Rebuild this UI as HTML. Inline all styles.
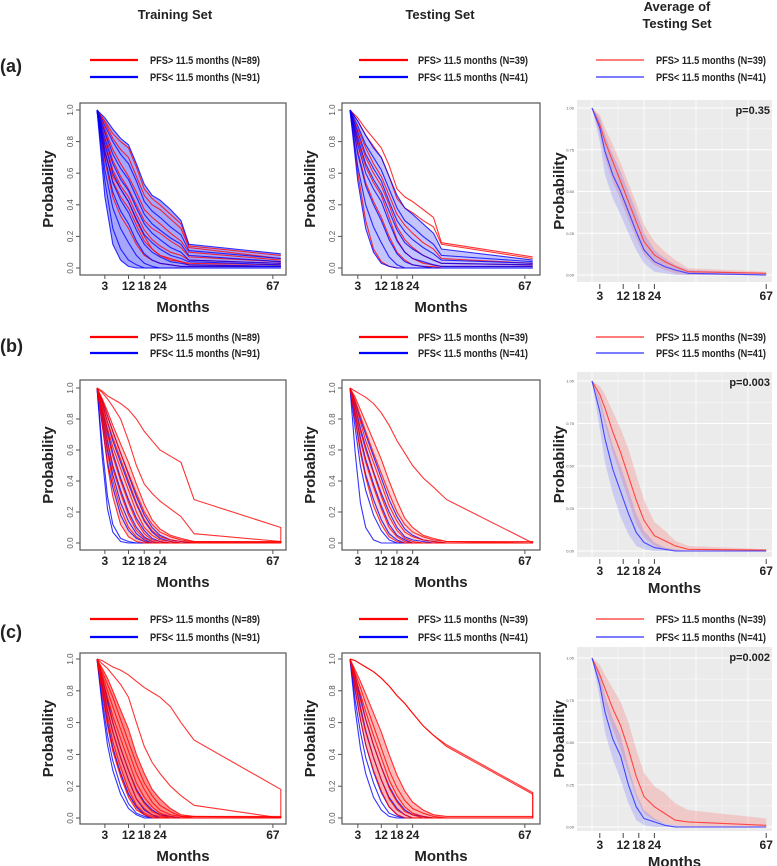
<!DOCTYPE html>
<html><head><meta charset="utf-8"><title>PFS survival curves</title>
<style>
html,body{margin:0;padding:0;background:#fff;}
svg{display:block;font-family:"Liberation Sans",sans-serif;}
.t{font-weight:bold;fill:#222;}
</style></head>
<body>
<svg id="fig" width="777" height="866" viewBox="0 0 777 866" xmlns="http://www.w3.org/2000/svg">
  <text class="t" x="175" y="19" font-size="13" text-anchor="middle">Training Set</text>
  <text class="t" x="440" y="19" font-size="13" text-anchor="middle">Testing Set</text>
  <text class="t" x="677" y="11" font-size="13" text-anchor="middle">Average of</text>
  <text class="t" x="677" y="28" font-size="13" text-anchor="middle">Testing Set</text>
  <text class="t" x="0" y="72" font-size="18">(a)</text>
  <text class="t" x="0" y="352" font-size="18">(b)</text>
  <text class="t" x="0" y="638" font-size="18">(c)</text>
  <g id="legends"></g>
  <g id="plots"></g>
</svg>
<script>
// ---------------- data ----------------
const monthsA = [0,3,6,9,12,15,18,21,24,28,32,35,70];
const trainRedA = [
 [1,.93,.85,.80,.76,.64,.50,.44,.40,.34,.28,.14,.08],
 [1,.92,.82,.75,.70,.58,.46,.40,.37,.31,.25,.13,.06],
 [1,.88,.75,.66,.58,.48,.37,.32,.28,.22,.17,.10,.05],
 [1,.85,.68,.58,.50,.40,.30,.25,.22,.17,.13,.07,.04],
 [1,.80,.62,.52,.45,.34,.24,.18,.14,.10,.08,.05,.03],
 [1,.75,.55,.45,.38,.27,.17,.12,.08,.05,.04,.03,.02],
 [1,.72,.58,.50,.42,.30,.20,.12,.08,.06,.04,.02,.01],
 [1,.68,.45,.33,.25,.15,.08,.05,.03,.02,.01,.01,.01]];
const trainBlueA = [
 [1,.95,.88,.82,.78,.66,.53,.46,.43,.37,.30,.15,.09],
 [1,.90,.80,.72,.66,.55,.42,.36,.32,.26,.21,.11,.06],
 [1,.86,.72,.63,.56,.45,.34,.28,.24,.19,.15,.08,.04],
 [1,.82,.66,.56,.49,.38,.28,.22,.18,.13,.10,.05,.03],
 [1,.78,.60,.50,.42,.31,.21,.16,.12,.08,.06,.04,.02],
 [1,.74,.54,.43,.35,.24,.15,.10,.07,.04,.03,.02,.01],
 [1,.70,.48,.36,.28,.17,.09,.05,.03,.02,.01,.01,.01],
 [1,.62,.38,.25,.16,.08,.03,.01,0,0,0,0,0],
 [1,.55,.25,.12,.05,.02,0,0,0,0,0,0,0],
 [1,.45,.15,.05,.01,0,0,0,0,0,0,0,0]];
const testRedA = [
 [1,.95,.88,.82,.76,.65,.50,.45,.42,.37,.32,.16,.07],
 [1,.93,.84,.77,.70,.58,.44,.38,.35,.30,.26,.15,.06],
 [1,.88,.76,.66,.58,.46,.34,.27,.22,.16,.12,.06,.03],
 [1,.84,.70,.60,.52,.40,.26,.18,.13,.08,.05,.03,.02],
 [1,.80,.64,.54,.46,.32,.18,.10,.06,.03,.02,.01,.01],
 [1,.74,.54,.42,.32,.20,.10,.05,.02,.01,.01,0,0],
 [1,.60,.30,.12,.04,.01,0,0,0,0,0,0,0]];
const testBlueA = [
 [1,.93,.84,.76,.70,.58,.46,.38,.34,.28,.22,.12,.05],
 [1,.90,.78,.70,.62,.50,.38,.30,.26,.20,.15,.08,.04],
 [1,.86,.72,.63,.55,.42,.30,.23,.18,.13,.09,.05,.03],
 [1,.82,.66,.56,.48,.36,.24,.16,.12,.08,.05,.03,.02],
 [1,.78,.60,.50,.42,.29,.17,.10,.06,.04,.02,.01,.01],
 [1,.72,.52,.40,.30,.18,.09,.04,.02,.01,0,0,0],
 [1,.64,.40,.26,.16,.07,.02,0,0,0,0,0,0],
 [1,.55,.25,.10,.03,.01,0,0,0,0,0,0,0]];

const monthsB = [0,2,4,6,9,12,15,18,21,24,28,32,37,70,70];
const trainRedB = [
 [1,.93,.85,.76,.64,.52,.38,.25,.15,.09,.05,.03,.01,.01,0],
 [1,.92,.82,.72,.58,.45,.32,.20,.12,.07,.04,.02,.01,.005,0],
 [1,.90,.78,.68,.54,.40,.26,.15,.08,.04,.02,.01,.005,0,0],
 [1,.88,.74,.62,.48,.34,.20,.10,.05,.02,.01,0,0,0,0],
 [1,.86,.70,.56,.40,.26,.14,.06,.02,.01,0,0,0,0,0],
 [1,.84,.64,.48,.32,.18,.08,.03,.01,0,0,0,0,0,0],
 [1,.80,.58,.40,.22,.10,.04,.01,0,0,0,0,0,0,0],
 [1,.76,.50,.30,.12,.04,.01,0,0,0,0,0,0,0,0],
 [1,.98,.95,.93,.90,.86,.80,.72,.66,.60,.56,.52,.28,.10,0],
 [1,.97,.93,.88,.80,.66,.50,.38,.32,.27,.22,.17,.06,.01,0]];
const trainBlueB = [
 [1,.92,.82,.72,.58,.44,.30,.18,.10,.05,.02,.01,0,0,0],
 [1,.90,.78,.66,.52,.38,.25,.14,.07,.03,.01,0,0,0,0],
 [1,.86,.72,.58,.42,.28,.16,.08,.03,.01,0,0,0,0,0],
 [1,.84,.66,.50,.34,.20,.10,.04,.01,0,0,0,0,0,0],
 [1,.80,.60,.44,.26,.14,.06,.02,0,0,0,0,0,0,0],
 [1,.76,.52,.36,.18,.08,.03,.01,0,0,0,0,0,0,0],
 [1,.62,.30,.12,.03,.01,0,0,0,0,0,0,0,0,0],
 [1,.55,.22,.07,.01,0,0,0,0,0,0,0,0,0,0]];
const testRedB = [
 [1,.94,.86,.78,.66,.54,.40,.27,.16,.10,.05,.03,.01,.01,0],
 [1,.92,.82,.72,.58,.45,.32,.20,.12,.07,.04,.02,.01,0,0],
 [1,.90,.78,.66,.52,.38,.24,.14,.07,.04,.02,.01,0,0,0],
 [1,.87,.72,.60,.45,.30,.17,.08,.03,.01,0,0,0,0,0],
 [1,.84,.66,.52,.36,.22,.10,.04,.01,0,0,0,0,0,0],
 [1,.80,.58,.42,.24,.12,.04,.01,0,0,0,0,0,0,0],
 [1,.98,.96,.94,.90,.84,.76,.66,.58,.50,.42,.36,.28,0,0]];
const testBlueB = [
 [1,.91,.80,.70,.56,.42,.28,.17,.09,.05,.02,.01,0,0,0],
 [1,.88,.74,.62,.46,.32,.20,.10,.04,.02,.01,0,0,0,0],
 [1,.84,.68,.54,.38,.24,.12,.05,.02,0,0,0,0,0,0],
 [1,.80,.60,.44,.28,.15,.06,.02,0,0,0,0,0,0,0],
 [1,.74,.50,.34,.18,.08,.02,0,0,0,0,0,0,0,0],
 [1,.58,.26,.10,.02,0,0,0,0,0,0,0,0,0,0]];

const monthsC = [0,2,4,6,9,12,15,18,21,24,28,32,37,70,70];
const trainRedC = [
 [1,.94,.88,.80,.68,.56,.40,.28,.18,.12,.06,.02,.01,.01,0],
 [1,.92,.84,.76,.62,.48,.34,.22,.14,.08,.04,.01,.01,.005,0],
 [1,.90,.80,.70,.56,.42,.28,.18,.10,.05,.02,.01,0,0,0],
 [1,.88,.76,.64,.50,.36,.22,.13,.07,.03,.01,0,0,0,0],
 [1,.86,.72,.60,.44,.30,.17,.09,.04,.02,0,0,0,0,0],
 [1,.84,.68,.54,.38,.24,.12,.06,.02,.01,0,0,0,0,0],
 [1,.82,.64,.48,.32,.18,.08,.03,.01,0,0,0,0,0,0],
 [1,.78,.58,.42,.26,.13,.05,.02,0,0,0,0,0,0,0],
 [1,.99,.97,.95,.93,.90,.86,.82,.79,.76,.70,.60,.49,.18,0],
 [1,.97,.94,.90,.84,.76,.60,.45,.35,.28,.20,.14,.08,0,0]];
const trainBlueC = [
 [1,.88,.74,.60,.44,.30,.18,.10,.05,.02,.01,0,0,0,0],
 [1,.84,.68,.54,.38,.24,.12,.05,.02,0,0,0,0,0,0],
 [1,.80,.60,.44,.28,.15,.07,.02,0,0,0,0,0,0,0],
 [1,.74,.52,.36,.20,.09,.03,.01,0,0,0,0,0,0,0],
 [1,.70,.46,.30,.15,.06,.02,0,0,0,0,0,0,0,0]];
const testRedC = [
 [1,.93,.86,.78,.66,.54,.40,.27,.17,.10,.05,.02,.01,.01,0],
 [1,.91,.82,.72,.58,.44,.30,.19,.11,.06,.03,.01,0,0,0],
 [1,.89,.78,.67,.52,.38,.24,.14,.07,.03,.01,0,0,0,0],
 [1,.87,.74,.62,.46,.32,.19,.10,.04,.02,0,0,0,0,0],
 [1,.84,.68,.54,.38,.24,.12,.05,.02,0,0,0,0,0,0],
 [1,.80,.62,.46,.30,.17,.07,.02,0,0,0,0,0,0,0],
 [1,.99,.97,.95,.92,.88,.83,.77,.72,.66,.58,.52,.46,.16,0],
 [1,.99,.97,.95,.92,.88,.83,.77,.72,.66,.58,.52,.45,.15,0]];
const testBlueC = [
 [1,.89,.76,.62,.46,.32,.20,.11,.05,.02,.01,0,0,0,0],
 [1,.85,.70,.55,.38,.24,.13,.06,.02,0,0,0,0,0,0],
 [1,.80,.62,.46,.29,.16,.07,.02,0,0,0,0,0,0,0],
 [1,.74,.54,.38,.22,.10,.03,.01,0,0,0,0,0,0,0],
 [1,.68,.44,.28,.13,.05,.01,0,0,0,0,0,0,0,0]];

// average-of-testing-set (ggplot) data
const monthsG = [0,3,5,8,11,14,17,20,24,28,32,37,67];
const avgRedA  = [1,.90,.80,.68,.56,.44,.32,.20,.12,.08,.05,.02,.01];
const avgRedHiA= [1,.96,.88,.78,.67,.55,.43,.30,.20,.14,.09,.04,.02];
const avgRedLoA= [1,.84,.70,.56,.45,.33,.22,.12,.06,.03,.01,0,0];
const avgBlueA = [1,.88,.74,.60,.50,.38,.26,.15,.08,.05,.03,.01,0];
const avgBlueHiA=[1,.94,.84,.72,.62,.50,.38,.25,.15,.10,.06,.03,.01];
const avgBlueLoA=[1,.80,.60,.46,.36,.25,.15,.07,.02,.01,0,0,0];
const avgRedB  = [1,.92,.84,.70,.58,.44,.30,.18,.09,.06,.03,.01,.005];
const avgRedHiB= [1,.97,.92,.82,.72,.60,.45,.30,.17,.12,.06,.03,.01];
const avgRedLoB= [1,.86,.74,.58,.44,.30,.16,.08,.03,.01,0,0,0];
const avgBlueB = [1,.82,.66,.48,.35,.22,.11,.05,.02,.01,0,0,0];
const avgBlueHiB=[1,.90,.78,.62,.50,.36,.22,.12,.05,.02,.01,0,0];
const avgBlueLoB=[1,.72,.52,.34,.20,.10,.03,.01,0,0,0,0,0];
const avgRedC  = [1,.90,.82,.70,.60,.46,.30,.18,.12,.08,.04,.03,.01];
const avgRedHiC= [1,.96,.90,.82,.74,.62,.46,.32,.24,.20,.14,.10,.05];
const avgRedLoC= [1,.84,.72,.58,.46,.32,.18,.08,.04,.02,.01,0,0];
const avgBlueC = [1,.84,.68,.52,.42,.25,.12,.05,.03,.01,0,0,0];
const avgBlueHiC=[1,.90,.78,.64,.54,.36,.20,.10,.05,.02,.01,0,0];
const avgBlueLoC=[1,.76,.56,.40,.28,.14,.04,.01,0,0,0,0,0];

const pValues = ["p=0.35","p=0.003","p=0.002"];
const trainN = ["PFS> 11.5 months (N=89)","PFS< 11.5 months (N=91)"];
const testN = ["PFS> 11.5 months (N=39)","PFS< 11.5 months (N=41)"];
const xTicks = [3,12,18,24,67];
const yTicksBase = [0,0.2,0.4,0.6,0.8,1.0];
const yTickLabelsBase = ["0.0","0.2","0.4","0.6","0.8","1.0"];
const yTicksGG = [0,0.25,0.5,0.75,1.0];
const yTickLabelsGG = ["0.00","0.25","0.50","0.75","1.00"];

// ---------------- drawing ----------------
const NS = "http://www.w3.org/2000/svg";
const plots = document.getElementById('plots');
const legends = document.getElementById('legends');
function mk(tag, parent){ const e=document.createElementNS(NS,tag); parent.appendChild(e); return e; }

const rowsBase = [
  {top:103,bot:275,y1:110,y0:268},
  {top:380,bot:550,y1:388,y0:543},
  {top:653,bot:824,y1:659,y0:818}];
const colsBase = [
  {left:80,right:286,x0:97,ppm:2.625},
  {left:342,right:540,x0:350,ppm:2.61}];
const rowsGG = [
  {top:100,bot:282,y1:108,y0:275},
  {top:372,bot:557,y1:381,y0:551},
  {top:647,bot:831,y1:658,y0:827}];
const colGG = {left:577,right:772,x0:592,ppm:2.6};
const legendY = [[60,77],[337,353],[619,637]];
const legendX = [[90,138,150],[359,408,418],[596,644,656]];

function text(parent, x, y, str, size, opts){
  const t = mk('text', parent);
  t.setAttribute('x', x); t.setAttribute('y', y);
  t.setAttribute('font-size', size);
  if (opts && opts.bold) t.setAttribute('font-weight','bold');
  t.setAttribute('fill', (opts && opts.fill) || '#222');
  if (opts && opts.anchor) t.setAttribute('text-anchor', opts.anchor);
  if (opts && opts.rot) t.setAttribute('transform', 'rotate(-90 '+x+' '+y+')');
  t.textContent = str;
  return t;
}

// legends
for (let r=0;r<3;r++){
  for (let c=0;c<3;c++){
    const labels = c===0 ? trainN : testN;
    const g = mk('g', legends);
    
    
    for (let k=0;k<2;k++){
      const y = legendY[r][k];
      const ln = mk('line', g);
      ln.setAttribute('x1', legendX[c][0]); ln.setAttribute('x2', legendX[c][1]);
      ln.setAttribute('y1', y); ln.setAttribute('y2', y);
      ln.setAttribute('stroke', k===0 ? (c===2?'#ff5050':'#ff0000') : (c===2?'#5050ff':'#0000ff'));
      ln.setAttribute('stroke-width', c===2 ? 1.6 : 2.2);
      
      
      const t = text(g, legendX[c][2], y+4, labels[k], 11, {bold:true});
      t.setAttribute('textLength', 110);
      t.setAttribute('lengthAdjust', 'spacingAndGlyphs');
      
      
    }
  }
}

function pathFrom(months, vals, sx, sy){
  return months.map((m,i)=>(i?'L':'M')+sx(m).toFixed(1)+','+sy(vals[i]).toFixed(1)).join('');
}

function basePanel(r, c, months, reds, blues, band){
  const R = rowsBase[r], C = colsBase[c];
  const g = mk('g', plots);
  
  
  const sx = m => C.x0 + m*C.ppm;
  const sy = v => R.y0 - v*(R.y0-R.y1);
  // density band from envelope of the non-outlier curves of the band colour
  const src = band.color==='blue' ? blues : reds;
  const idx = months.length - (r===0 ? 4 : 4);
  const dense = src.filter(cv => cv[idx] < band.cut);
  const hi = months.map((_,i)=>Math.max(...dense.map(cv=>cv[i])));
  const lo = months.map((_,i)=>Math.min(...dense.map(cv=>cv[i])));
  const bp = mk('path', g);
  bp.setAttribute('d', pathFrom(months, hi, sx, sy) + months.slice().reverse().map((m,j)=>{const i=months.length-1-j; return 'L'+sx(m).toFixed(1)+','+sy(lo[i]).toFixed(1);}).join('') + 'Z');
  bp.setAttribute('fill', band.color==='blue' ? '#3a3aff' : '#ff3030');
  bp.setAttribute('fill-opacity', band.op);
  
  
  const draw = (arr, col, name) => arr.forEach(cv=>{
    const p = mk('path', g);
    p.setAttribute('d', pathFrom(months, cv, sx, sy));
    p.setAttribute('fill', 'none');
    p.setAttribute('stroke', col);
    p.setAttribute('stroke-width', 1.1);
    p.setAttribute('stroke-opacity', 0.8);
    
    
  });
  if (band.color==='blue'){ draw(reds,'#ff0000','curve-high-pfs'); draw(blues,'#0000ff','curve-low-pfs'); }
  else { draw(blues,'#0000ff','curve-low-pfs'); draw(reds,'#ff0000','curve-high-pfs'); }
  const box = mk('rect', g);
  box.setAttribute('x', C.left); box.setAttribute('y', R.top);
  box.setAttribute('width', C.right-C.left); box.setAttribute('height', R.bot-R.top);
  box.setAttribute('fill','none'); box.setAttribute('stroke','#555'); box.setAttribute('stroke-width',1.2);
  
  
  yTicksBase.forEach((v,i)=>{
    const y = sy(v);
    const tk = mk('line', g);
    tk.setAttribute('x1', C.left-4); tk.setAttribute('x2', C.left); tk.setAttribute('y1', y); tk.setAttribute('y2', y);
    tk.setAttribute('stroke','#555');
    
    
    const t = text(g, C.left-7, y, yTickLabelsBase[i], 8, {fill:'#555', anchor:'middle', rot:true});
    
    
  });
  xTicks.forEach(m=>{
    const x = sx(m);
    const tk = mk('line', g);
    tk.setAttribute('x1', x); tk.setAttribute('x2', x); tk.setAttribute('y1', R.bot); tk.setAttribute('y2', R.bot+4);
    tk.setAttribute('stroke','#555');
    
    
    const t = text(g, x, R.bot+15, String(m), 12, {bold:true, anchor:'middle'});
    
    
  });
  const yt = text(g, C.left-27, (R.top+R.bot)/2, 'Probability', 15, {bold:true, anchor:'middle', rot:true});
  
  
  const xt = text(g, (C.left+C.right)/2, R.bot+37, 'Months', 15, {bold:true, anchor:'middle'});
  
  
}

function ggPanel(r, red, redHi, redLo, blue, blueHi, blueLo, pval){
  const R = rowsGG[r], C = colGG;
  const g = mk('g', plots);
  
  
  const sx = m => C.x0 + m*C.ppm;
  const sy = v => R.y0 - v*(R.y0-R.y1);
  const bg = mk('rect', g);
  bg.setAttribute('x', C.left); bg.setAttribute('y', R.top);
  bg.setAttribute('width', C.right-C.left); bg.setAttribute('height', R.bot-R.top);
  bg.setAttribute('fill', '#ebebeb');
  
  
  [0,0.125,0.25,0.375,0.5,0.625,0.75,0.875,1].forEach((v,i)=>{
    const l = mk('line', g);
    l.setAttribute('x1', C.left); l.setAttribute('x2', C.right); l.setAttribute('y1', sy(v)); l.setAttribute('y2', sy(v));
    l.setAttribute('stroke', '#fff'); l.setAttribute('stroke-width', i%2===0 ? 0.9 : 0.4);
    
    
  });
  [0,10,20,30,40,50,60].forEach((m,i)=>{
    const l = mk('line', g);
    l.setAttribute('x1', sx(m)); l.setAttribute('x2', sx(m)); l.setAttribute('y1', R.top); l.setAttribute('y2', R.bot);
    l.setAttribute('stroke', '#fff'); l.setAttribute('stroke-width', i%2===0 ? 0.8 : 0.4);
    
    
  });
  const ribbon = (hi, lo, col, name) => {
    const p = mk('path', g);
    p.setAttribute('d', pathFrom(monthsG, hi, sx, sy) + monthsG.slice().reverse().map((m,j)=>{const i=monthsG.length-1-j; return 'L'+sx(m).toFixed(1)+','+sy(lo[i]).toFixed(1);}).join('') + 'Z');
    p.setAttribute('fill', col); p.setAttribute('fill-opacity', 0.2);
    
    
  };
  ribbon(redHi, redLo, '#ff3b3b', 'ribbon-high-pfs');
  ribbon(blueHi, blueLo, '#4b4bff', 'ribbon-low-pfs');
  const line = (vals, col, name) => {
    const p = mk('path', g);
    p.setAttribute('d', pathFrom(monthsG, vals, sx, sy));
    p.setAttribute('fill','none'); p.setAttribute('stroke', col); p.setAttribute('stroke-width', 1.1);
    
    
  };
  line(red, '#ff4545', 'mean-curve-high-pfs');
  line(blue, '#4545ff', 'mean-curve-low-pfs');
  yTicksGG.forEach((v,i)=>{
    const t = text(g, C.left-3, sy(v)+1.5, yTickLabelsGG[i], 4, {fill:'#555', anchor:'end'});
    
    
  });
  xTicks.forEach(m=>{
    const x = sx(m);
    const tk = mk('line', g);
    tk.setAttribute('x1', x); tk.setAttribute('x2', x); tk.setAttribute('y1', R.bot+2); tk.setAttribute('y2', R.bot+7);
    tk.setAttribute('stroke','#444');
    
    
    const t = text(g, x, R.bot+18, String(m), 12, {bold:true, anchor:'middle'});
    
    
  });
  const pt = text(g, C.right-2, R.top+14, pval, 11, {bold:true, anchor:'end'});
  
  
  const yt = text(g, C.left-13, (R.top+R.bot)/2, 'Probability', 15, {bold:true, anchor:'middle', rot:true});
  
  
  if (r>0){
    const xt = text(g, (C.left+C.right)/2, R.bot+36, 'Months', 15, {bold:true, anchor:'middle'});
    
    
  }
}

basePanel(0,0,monthsA,trainRedA,trainBlueA,{color:'blue',op:0.45,cut:1});
basePanel(0,1,monthsA,testRedA,testBlueA,{color:'blue',op:0.3,cut:1});
basePanel(1,0,monthsB,trainRedB,trainBlueB,{color:'red',op:0.25,cut:0.05});
basePanel(1,1,monthsB,testRedB,testBlueB,{color:'red',op:0.2,cut:0.05});
basePanel(2,0,monthsC,trainRedC,trainBlueC,{color:'red',op:0.55,cut:0.05});
basePanel(2,1,monthsC,testRedC,testBlueC,{color:'red',op:0.35,cut:0.05});
ggPanel(0,avgRedA,avgRedHiA,avgRedLoA,avgBlueA,avgBlueHiA,avgBlueLoA,pValues[0]);
ggPanel(1,avgRedB,avgRedHiB,avgRedLoB,avgBlueB,avgBlueHiB,avgBlueLoB,pValues[1]);
ggPanel(2,avgRedC,avgRedHiC,avgRedLoC,avgBlueC,avgBlueHiC,avgBlueLoC,pValues[2]);
</script>
</body></html>
